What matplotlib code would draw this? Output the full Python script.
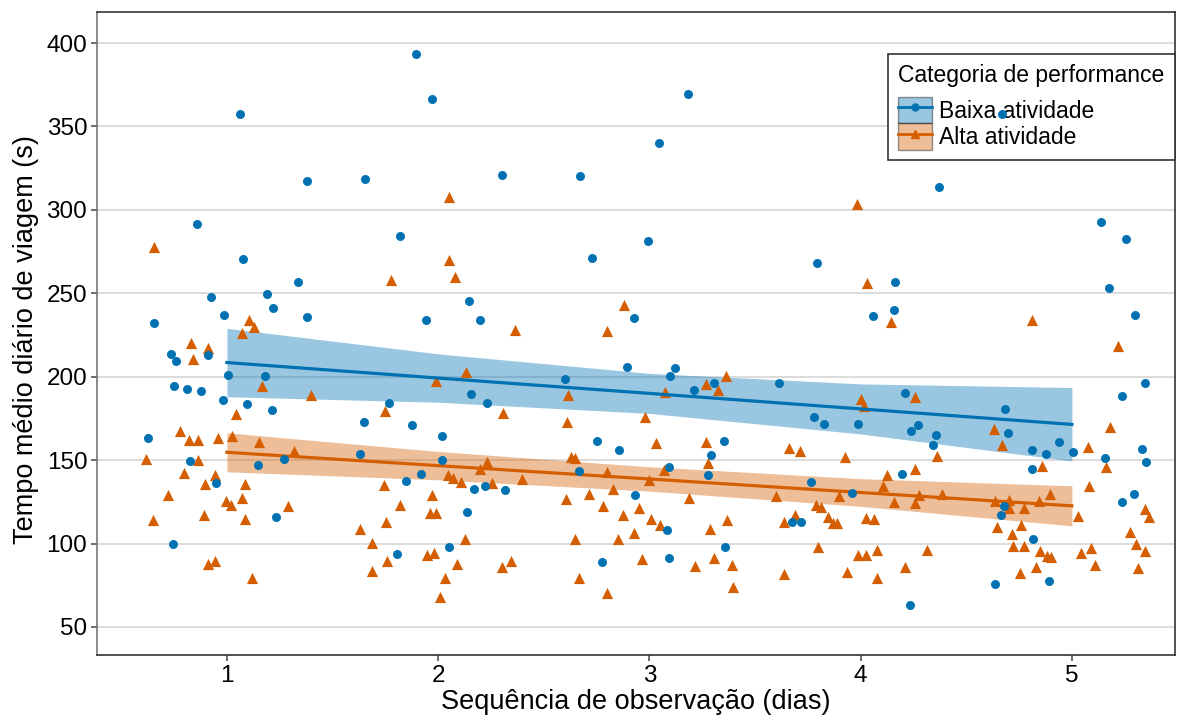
import matplotlib
matplotlib.use('Agg')
from matplotlib import pyplot as plt
from matplotlib.lines import Line2D
from matplotlib.patches import Patch
import numpy as np

plt.rcParams['font.family'] = ['Liberation Sans', 'DejaVu Sans']

# observations (x jittered around the day number)
baixa_x = [1.062, 0.859, 1.076, 0.656, 0.924, 1.19, 1.22, 0.986, 0.911, 0.735, 0.76, 1.005, 1.18,
           0.748, 0.812, 0.878, 0.983, 1.096, 1.213, 0.626, 0.825, 1.145, 1.271, 0.948, 1.232, 0.743,
           1.896, 1.972, 1.377, 1.653, 1.819, 1.336, 2.144, 1.377, 1.944, 2.157, 1.765, 1.65, 1.877,
           2.016, 1.63, 2.016, 1.92, 1.847, 2.168, 2.136, 1.803, 2.051,
           2.302, 2.67, 2.991, 2.729, 2.196, 2.927, 2.892, 2.599, 2.229, 2.753, 2.856, 2.665, 2.22,
           2.316, 2.933, 2.774,
           3.181, 3.044, 3.794, 3.121, 3.099, 3.211, 3.307, 3.613, 3.779, 3.825, 3.353, 3.293, 3.091,
           3.278, 3.765, 3.083, 3.676, 3.716, 3.359, 3.092,
           4.667, 4.37, 4.161, 4.156, 4.057, 4.209, 3.988, 4.238, 4.271, 4.356, 4.342, 4.684, 4.698,
           4.194, 3.957, 4.678, 4.664, 4.637, 4.233,
           5.137, 5.256, 5.177, 5.3, 5.346, 5.237, 4.941, 4.81, 4.876, 5.006, 4.81, 5.155, 5.331,
           5.349, 5.238, 5.293, 4.815, 4.892]
baixa_y = [357.2, 291.3, 270.6, 232.3, 247.5, 249.5, 241.3, 237, 212.9, 213.9, 209.2, 201.2, 200.7,
           194.5, 192.5, 191.5, 185.8, 183.8, 180.1, 163.2, 149.3, 147, 150.5, 136.3, 115.9, 100,
           393.5, 366.4, 317.2, 318.7, 284.1, 256.5, 245.3, 235.6, 233.8, 189.6, 184.1, 173.1, 170.9,
           164.2, 153.5, 150.2, 141.8, 137.6, 132.6, 119.2, 94.0, 97.8,
           321.1, 320.1, 281.6, 270.9, 234.1, 235.3, 206, 198.5, 184.3, 161.7, 156.2, 143.3, 134.6,
           132.3, 128.9, 89.1,
           369.2, 340.3, 268.2, 205.2, 200.7, 192, 196.3, 196.3, 176.1, 171.4, 161.7, 153, 146,
           141.3, 136.8, 108.2, 112.7, 113.2, 98, 91.5,
           357.2, 313.9, 256.5, 239.8, 236.1, 190.5, 171.9, 167.4, 170.9, 165.2, 159.2, 180.9, 166,
           141.5, 130.3, 122.4, 117.2, 75.6, 62.9,
           292.5, 282.3, 253.2, 237, 196.5, 188.6, 160.7, 156.2, 153.7, 155, 144.8, 151.2, 156.7,
           149, 125.1, 129.9, 103, 77.6]

alta_x = [0.656, 1.106, 1.129, 1.07, 0.831, 0.911, 0.838, 1.164, 1.044, 0.776, 0.82, 0.861, 0.956,
          1.022, 1.151, 0.618, 0.864, 1.316, 0.795, 0.942, 0.894, 1.084, 0.719, 1.071, 0.994, 1.018,
          1.289, 0.65, 0.893, 1.087, 0.911, 0.943, 1.118,
          2.051, 2.051, 2.079, 1.776, 2.133, 1.989, 1.396, 1.749, 2.045, 2.072, 2.108, 1.743, 1.969,
          1.82, 1.96, 1.989, 1.754, 1.628, 1.686, 2.128, 1.757, 1.688, 1.948, 1.981, 2.089, 2.033, 2.01,
          2.879, 2.362, 2.8, 2.613, 2.307, 2.608, 2.979, 3.03, 2.628, 2.65, 2.232, 2.2, 2.254, 2.395,
          2.797, 2.827, 3.0, 2.606, 2.714, 2.778, 2.875, 2.95, 3.009, 2.927, 2.647, 2.849, 2.965,
          2.303, 2.346, 2.665, 2.8,
          3.364, 3.266, 3.324, 3.073, 3.267, 3.659, 3.711, 3.278, 3.07, 3.188, 3.598, 3.788, 3.813,
          3.05, 3.286, 3.365, 3.635, 3.687, 3.845, 3.867, 3.799, 3.307, 3.215, 3.389, 3.637, 3.395,
          3.981, 4.03, 4.142, 4.001, 4.017, 4.255, 4.63, 4.667, 4.361, 3.925, 4.255, 4.126, 4.107,
          4.159, 3.897, 4.275, 4.257, 4.383, 4.636, 4.703, 3.888, 4.026, 4.063, 4.645, 4.715, 3.988,
          4.023, 4.078, 4.314, 3.934, 4.076, 4.208, 4.72,
          4.812, 5.218, 5.178, 5.074, 4.86, 5.16, 5.082, 4.702, 4.774, 4.844, 4.896, 4.759, 5.027,
          5.346, 5.367, 5.274, 4.774, 4.847, 4.88, 4.903, 5.045, 5.09, 5.305, 5.347, 5.109, 5.312,
          4.753, 4.828]
alta_y = [277.9, 234.1, 229.6, 225.9, 220.4, 217.4, 210.7, 194.3, 177.4, 167.4, 162.2, 162.2, 163.2,
          164.4, 160.7, 150.5, 150.2, 155.2, 142, 141, 135.8, 135.6, 129.1, 127.1, 125.4, 123.1,
          122.6, 114.4, 116.9, 114.7, 87.8, 89.3, 79.6,
          307.7, 269.7, 259.9, 257.7, 202.7, 197.5, 189.3, 179.6, 140.8, 139, 137, 134.8, 128.9,
          123.4, 118.4, 118.4, 113.2, 108.7, 100.2, 103, 89.8, 83.3, 93.3, 94.3, 87.8, 79.1, 67.9,
          242.8, 228.1, 227.1, 189.3, 178.1, 172.6, 176.1, 160.3, 152, 151.5, 149, 144.8, 136.3, 138.6,
          143, 132.8, 137.8, 126.9, 129.6, 122.6, 117.4, 121.6, 114.7, 106.5, 102.5, 102.7, 91,
          85.8, 89.6, 79.1, 70.1,
          200.7, 195.8, 191.8, 191, 160.7, 157.5, 155.2, 148, 144, 127.6, 128.6, 123.1, 122.1,
          111.2, 108.7, 113.9, 113.2, 117.2, 115.7, 112.4, 97.8, 91.5, 86.3, 87.1, 81.6, 74.1,
          303.7, 256, 232.8, 186.6, 182.6, 188.1, 168.9, 159.2, 152.5, 152, 144.8, 140.8, 134.3,
          125.1, 128.4, 129.1, 124.6, 129.6, 125.6, 125.9, 112.4, 115.2, 115, 110.2, 105.5, 93.1,
          93.3, 96, 96.3, 82.8, 79.1, 86.1, 98.5,
          234.1, 218.4, 169.9, 158, 146.3, 145.8, 134.6, 121.6, 121.6, 125.6, 129.6, 111.4, 116.7,
          120.6, 115.9, 106.7, 98.8, 95.5, 92.5, 92, 94.5, 97.5, 99.8, 95.5, 87.1, 85.6,
          82.1, 86.1]

# fitted lines and confidence bands, read at each day
dias = [1, 2, 3, 4, 5]
baixa_fit = [208.5, 199.2, 190.0, 180.7, 171.4]
baixa_lo = [188.0, 184.7, 178.0, 165.7, 149.5]
baixa_hi = [229.0, 213.7, 202.0, 195.7, 193.5]
alta_fit = [154.7, 146.7, 138.7, 130.6, 122.6]
alta_lo = [143.0, 138.2, 131.4, 122.3, 110.6]
alta_hi = [166.4, 155.2, 146.0, 138.9, 134.6]

azul = '#0072B2'
laranja = '#D55E00'

fig = plt.figure(figsize=(11.88, 7.15), dpi=100)
ax = fig.add_axes([97 / 1188, 60 / 715, 1078 / 1188, 643 / 715])

ax.fill_between(dias, baixa_lo, baixa_hi, color=azul, alpha=0.4, lw=0, zorder=2)
ax.fill_between(dias, alta_lo, alta_hi, color=laranja, alpha=0.4, lw=0, zorder=2)
# blue points sit above the legend box, as in the original
ax.scatter(baixa_x, baixa_y, s=42, marker='o', color=azul, lw=0, zorder=6)
ax.scatter(alta_x, alta_y, s=65, marker='^', color=laranja, lw=0, zorder=3)
ax.plot(dias, baixa_fit, color=azul, lw=2.3, zorder=4)
ax.plot(dias, alta_fit, color=laranja, lw=2.3, zorder=4)

ax.set_xlim(0.385, 5.488)
ax.set_ylim(33.2, 418.6)
ax.set_xticks([1, 2, 3, 4, 5])
ax.set_yticks([50, 100, 150, 200, 250, 300, 350, 400])
ax.tick_params(labelsize=17.5, length=4, width=1.2, color='#555555', labelcolor='black', pad=3)
ax.grid(axis='y', color='#d9d9d9', lw=1.3, zorder=0)
ax.set_axisbelow(True)
for side in ['top', 'right', 'bottom']:
    ax.spines[side].set_color('#333333')
ax.spines['left'].set_color('#777777')
for sp in ax.spines.values():
    sp.set_linewidth(1.2)

ax.set_ylabel('Tempo médio diário de viagem (s)', fontsize=19.5)
ax.set_xlabel('Sequência de observação (dias)', fontsize=19.5)
ax.yaxis.set_label_coords(-0.054, 0.49)
ax.xaxis.set_label_coords(0.5, -0.053)

h_baixa = (Patch(facecolor=azul, alpha=0.4, edgecolor='black', lw=1.0),
           Line2D([], [], color=azul, lw=2, marker='o', markersize=5))
h_alta = (Patch(facecolor=laranja, alpha=0.4, edgecolor='black', lw=1.0),
          Line2D([], [], color=laranja, lw=2, marker='^', markersize=6))
leg = ax.legend([h_baixa, h_alta], ['Baixa atividade', 'Alta atividade'],
                title='Categoria de performance', loc='upper right',
                bbox_to_anchor=(1.0, 0.935), borderaxespad=0, fontsize=16.5, title_fontsize=16.5,
                frameon=True, fancybox=False, framealpha=1, edgecolor='#333333',
                handlelength=1.45, handleheight=1.4, handletextpad=0.3, labelspacing=0.0,
                borderpad=0.45)
leg.set_zorder(5)
leg.get_frame().set_linewidth(1.2)
leg._legend_box.align = 'left'
leg._legend_box.sep = 7

plt.savefig('out.png', dpi=100)
